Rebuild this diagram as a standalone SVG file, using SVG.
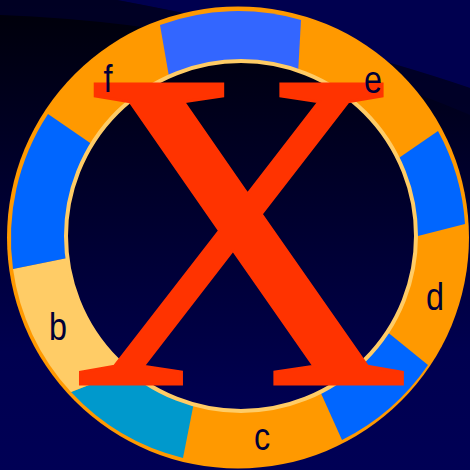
<svg xmlns="http://www.w3.org/2000/svg" width="470" height="470" viewBox="0 0 470 470">
  <defs>
    <linearGradient id="bg" x1="0" y1="0" x2="0" y2="470" gradientUnits="userSpaceOnUse">
      <stop offset="0" stop-color="#000008"/>
      <stop offset="0.75" stop-color="#000050"/>
      <stop offset="1" stop-color="#000055"/>
    </linearGradient>
    <linearGradient id="inner" x1="0" y1="0" x2="0" y2="1">
      <stop offset="0" stop-color="#000012"/>
      <stop offset="1" stop-color="#000052"/>
    </linearGradient>
    <style>
      .lbl { font-family: "Liberation Sans", Arial, sans-serif; font-size: 38px; fill: #000038; text-anchor: middle; }
      .blue { fill: #0066FF; }
    </style>
  </defs>

  <!-- background -->
  <rect x="0" y="0" width="470" height="470" fill="url(#bg)"/>
  <path d="M0,0 L117,0 Q330,40 470,88 L470,115 Q260,25 0,15 Z" fill="#00002A" opacity="0.8"/>
  <path d="M117,0 Q330,40 470,88 L470,0 Z" fill="#00004F"/>

  <!-- ring -->
  <g id="ring">
    <circle cx="238" cy="237.5" r="231" fill="#FF9900"/>
    <g id="seg-top"><path d="M160,25 A226,226 0 0 1 301,20 L298,74 L169.5,79.5 Z" fill="#3366FF"/></g>
    <g id="seg-right"><path class="blue" d="M438,131 A226,226 0 0 1 465,224 L414,237 L396.6,159.6 Z"/></g>
    <g id="seg-bottom-right"><path class="blue" d="M428,365 A227,227 0 0 1 342,440 L320.3,391.7 L387,331.7 Z"/></g>
    <g id="seg-teal"><path d="M183,458 A227,227 0 0 1 71,392 L133.8,367.4 L193.6,404.2 Z" fill="#0099CC"/></g>
    <g id="seg-b"><path d="M71,392 A227,227 0 0 1 13,269 L71,257.3 L133.8,367.4 Z" fill="#FFCC66"/></g>
    <g id="seg-left"><path class="blue" d="M13,269 A227,227 0 0 1 48,114 L96,147 L71,257.3 Z"/></g>
    <circle cx="241" cy="236" r="175" fill="url(#inner)" stroke="#FFCC66" stroke-width="4"/>
  </g>

  <!-- big X -->
  <text transform="translate(240.5,384) scale(1.03,1)" font-family="'Liberation Serif', 'Times New Roman', serif" font-size="458" fill="#FF3300" stroke="#FF3300" stroke-width="3" text-anchor="middle">X</text>

  <!-- labels -->
  <g id="labels">
    <text class="lbl" transform="translate(108,92) scale(0.85,1)">f</text>
    <text class="lbl" transform="translate(373,93) scale(0.85,1)">e</text>
    <text class="lbl" transform="translate(435,310) scale(0.85,1)">d</text>
    <text class="lbl" transform="translate(262,450) scale(0.85,1)">c</text>
    <text class="lbl" transform="translate(58,340) scale(0.85,1)">b</text>
  </g>
</svg>
